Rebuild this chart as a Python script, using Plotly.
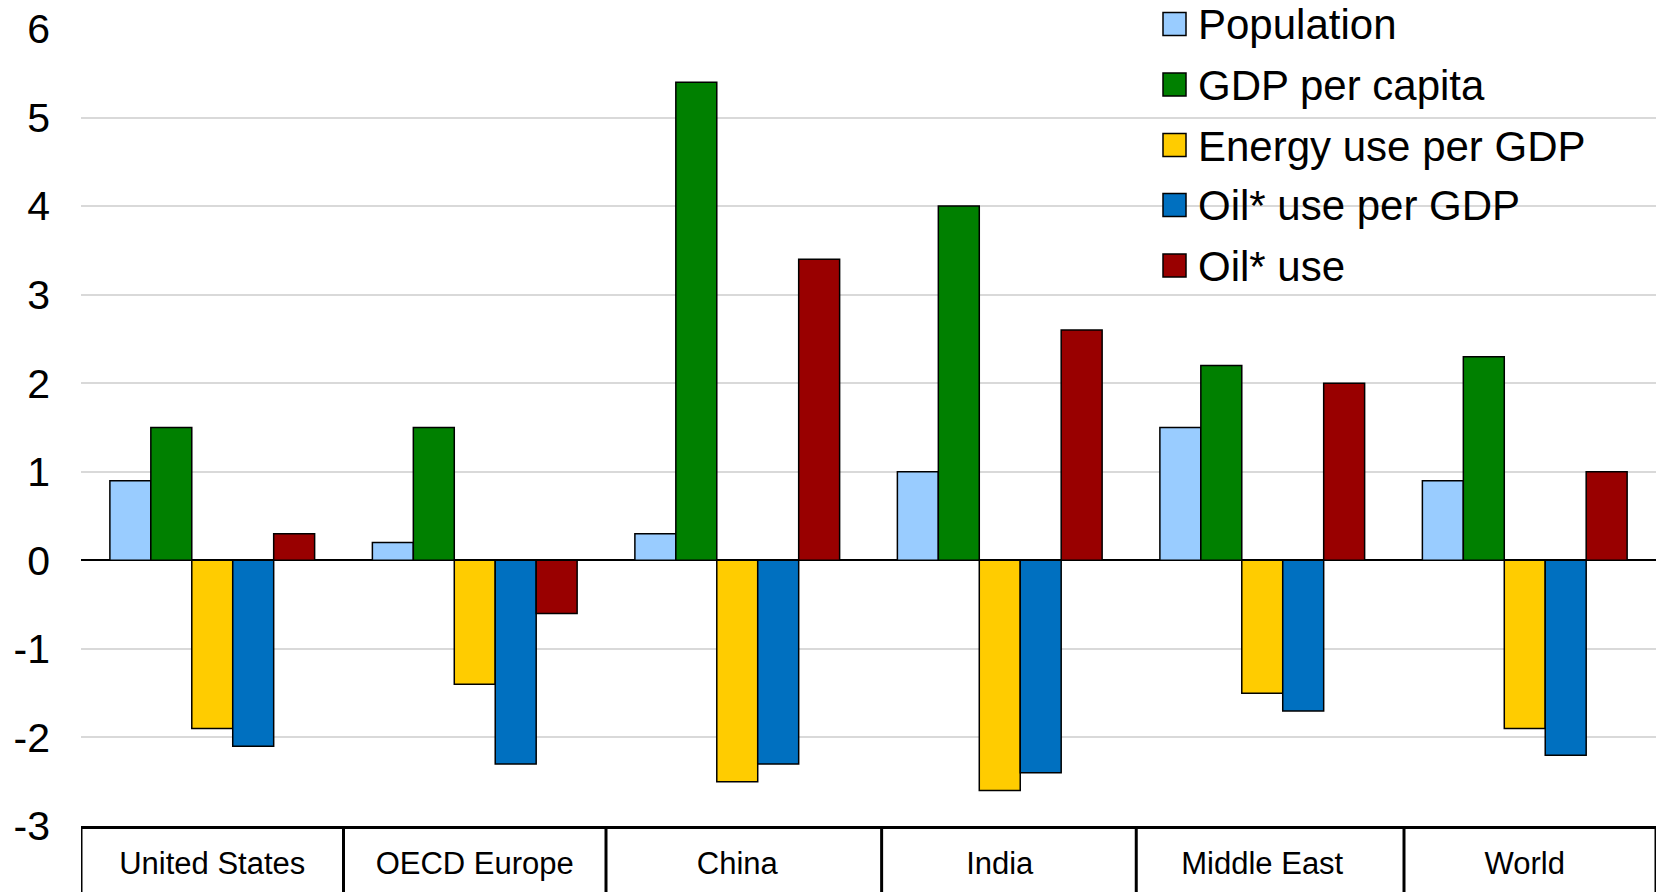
import plotly.graph_objects as go

# Average annual change, per cent
regions = ["United States", "OECD Europe", "China", "India", "Middle East", "World"]
population = [0.9, 0.2, 0.3, 1.0, 1.5, 0.9]
gdp_per_capita = [1.5, 1.5, 5.4, 4.0, 2.2, 2.3]
energy_per_gdp = [-1.9, -1.4, -2.5, -2.6, -1.5, -1.9]
oil_per_gdp = [-2.1, -2.3, -2.3, -2.4, -1.7, -2.2]
oil_use = [0.3, -0.6, 3.4, 2.6, 2.0, 1.0]

series_names = ["Population", "GDP per capita", "Energy use per GDP",
                "Oil* use per GDP", "Oil* use"]
series_values = [population, gdp_per_capita, energy_per_gdp, oil_per_gdp, oil_use]
series_colors = ["#99CCFF", "#008000", "#FFCC00", "#0070C0", "#990000"]

y_tick_vals = [-3, -2, -1, 0, 1, 2, 3, 4, 5, 6]
y_tick_text = ["-3", "-2", "-1", "0", "1", "2", "3", "4", "5", "6"]

# edges of the label boxes under the axis (in category units)
label_box_edges = [-0.5, 0.5, 1.5, 2.55, 3.52, 4.54, 5.5]

W, H = 1659, 892
M_L, M_R, M_T, M_B = 81, 3, 29, 66
FONT = "Liberation Sans, Arial, sans-serif"

x_pos = list(range(len(regions)))

fig = go.Figure()
for name, vals, col in zip(series_names, series_values, series_colors):
    fig.add_trace(go.Bar(
        name=name, x=x_pos, y=vals,
        marker=dict(color=col, line=dict(color="black", width=1.5)),
        showlegend=False,
    ))

# pixel -> paper helpers for the legend block
plot_w = W - M_L - M_R
plot_h = H - M_T - M_B


def px_x(px):
    return (px - M_L) / plot_w


def px_y(py):
    return (H - M_B - py) / plot_h


shapes = []
annotations = []

# white backdrop behind the legend (hides gridlines, sits under bars)
shapes.append(dict(type="rect", xref="paper", yref="paper",
                   x0=px_x(1148), x1=px_x(1613), y0=px_y(290), y1=px_y(0),
                   fillcolor="white", line=dict(width=0), layer="between"))

row_y = [24, 84.5, 145, 205, 265.5]
for name, col, ry in zip(series_names, series_colors, row_y):
    shapes.append(dict(type="rect", xref="paper", yref="paper",
                       x0=px_x(1163), x1=px_x(1186),
                       y0=px_y(ry + 11.5), y1=px_y(ry - 11.5),
                       fillcolor=col, line=dict(color="black", width=1.5),
                       layer="above"))
    annotations.append(dict(text=name, xref="paper", yref="paper",
                            x=px_x(1196), y=px_y(ry + 1), xanchor="left",
                            yanchor="middle", showarrow=False,
                            font=dict(family=FONT, size=42, color="black")))

# boxes round the category labels under the axis
for edge in label_box_edges:
    shapes.append(dict(type="line", xref="x", yref="paper",
                       x0=edge, x1=edge, y0=0, y1=-0.12,
                       line=dict(color="black", width=3), layer="above"))

fig.update_layout(
    width=W, height=H,
    margin=dict(l=M_L, r=M_R, t=M_T, b=M_B, pad=0),
    paper_bgcolor="white", plot_bgcolor="white",
    barmode="group", bargap=0.22, bargroupgap=0,
    font=dict(family=FONT, color="black"),
    shapes=shapes, annotations=annotations,
    xaxis=dict(
        range=[-0.5, len(regions) - 0.5],
        tickvals=x_pos, ticktext=regions,
        tickfont=dict(size=31, family=FONT, color="black"),
        showgrid=False, zeroline=False,
        showline=True, linecolor="black", linewidth=3,
        ticks="", ticklabelstandoff=8,
    ),
    yaxis=dict(
        range=[-3, 6],
        tickvals=y_tick_vals, ticktext=y_tick_text,
        tickfont=dict(size=41, family=FONT, color="black"),
        showgrid=True, gridcolor="#D9D9D9", gridwidth=1.5,
        zeroline=True, zerolinecolor="black", zerolinewidth=2,
        showline=False, ticks="", ticklabelstandoff=30,
    ),
)

fig.write_html("out.html")
